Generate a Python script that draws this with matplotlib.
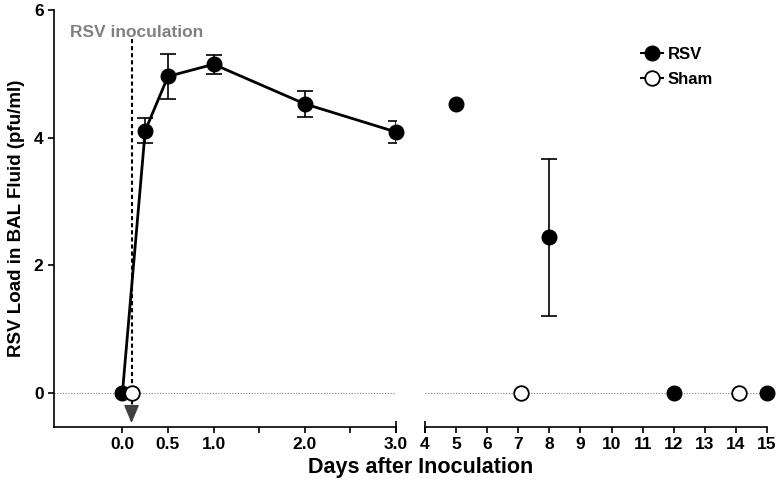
import matplotlib.pyplot as plt
import numpy as np

plt.rcParams['font.family'] = ['Liberation Sans', 'DejaVu Sans']
plt.rcParams['font.weight'] = 'bold'

# RSV load in BAL fluid after inoculation

rsv_days = np.array([0, 0.25, 0.5, 1.0, 2.0, 3.0, 5, 8, 12, 15])
rsv_load = np.array([0, 4.11, 4.96, 5.15, 4.53, 4.09, 4.53, 2.44, 0, 0])
rsv_err = np.array([0, 0.2, 0.35, 0.15, 0.2, 0.17, 0, 1.23, 0, 0])
rsv_connected = np.array([True, True, True, True, True, True, False, False, False, False])

sham_days = np.array([0.1, 7.1, 14.1])
sham_load = np.array([0, 0, 0])

inoculation_day = 0.1
left_ticks = [0.0, 0.5, 1.0, 1.5, 2.0, 2.5, 3.0]
left_labels = ["0.0", "0.5", "1.0", "", "2.0", "", "3.0"]
right_ticks = list(range(4, 16))

fig = plt.figure(figsize=(7.8, 4.82), dpi=100)
ax1 = fig.add_axes([54 / 780, 55 / 482, 342 / 780, 417 / 482])
ax2 = fig.add_axes([425 / 780, 55 / 482, 342 / 780, 417 / 482])

ms = 10.5
for ax, lo, hi in [(ax1, -0.75, 3.0), (ax2, 4, 15)]:
    ax.axhline(0, color='gray', lw=0.8, ls=(0, (1, 1.5)), zorder=1)

    m = (rsv_days >= lo) & (rsv_days <= hi)
    line = m & rsv_connected
    if line.any():
        ax.plot(rsv_days[line], rsv_load[line], color='black', lw=2.0, zorder=2)
    e = m & (rsv_err > 0)
    ax.errorbar(rsv_days[e], rsv_load[e], yerr=rsv_err[e], fmt='none',
                ecolor='black', elinewidth=1.2, capsize=5.5, capthick=1.2, zorder=2)
    ax.plot(rsv_days[m], rsv_load[m], 'o', color='black', ms=ms, zorder=4, clip_on=False)

    s = (sham_days >= lo) & (sham_days <= hi)
    ax.plot(sham_days[s], sham_load[s], 'o', mfc='white', mec='black', mew=1.3,
            ms=ms, zorder=5, clip_on=False)

    ax.set_xlim(lo, hi)
    ax.set_ylim(-0.53, 6)
    for sp in ['top', 'right']:
        ax.spines[sp].set_visible(False)
    ax.spines['bottom'].set_linewidth(1.2)
    ax.spines['left'].set_linewidth(1.2)
    ax.tick_params(width=1.2, length=4, labelsize=12.5, direction='out')

ax1.set_xticks(left_ticks)
ax1.set_xticklabels(left_labels, fontweight='bold')
ax1.set_yticks([0, 2, 4, 6])
ax1.set_yticklabels(["0", "2", "4", "6"], fontweight='bold')
ax1.set_ylabel("RSV Load in BAL Fluid (pfu/ml)", fontsize=13.5, fontweight='bold', labelpad=6)

ax2.set_xticks(right_ticks)
ax2.set_xticklabels([str(t) for t in right_ticks], fontweight='bold')
ax2.spines['left'].set_visible(False)
ax2.set_yticks([])

# end caps at the axis break
ax1.plot([3.0], [0], marker='|', ms=9, mew=1.2, color='black',
         transform=ax1.get_xaxis_transform(), clip_on=False)
ax2.plot([4], [0], marker='|', ms=9, mew=1.2, color='black',
         transform=ax2.get_xaxis_transform(), clip_on=False)

# inoculation marker
ax1.plot([inoculation_day, inoculation_day], [5.55, -0.25], color='black',
         lw=1.5, ls=(0, (2, 1.4)), zorder=3)
ax1.annotate("", xy=(inoculation_day, -0.47), xytext=(inoculation_day, -0.23),
             arrowprops=dict(arrowstyle='-|>,head_length=0.55,head_width=0.23',
                             mutation_scale=20, color='#404040', lw=1.2,
                             shrinkA=0, shrinkB=0), zorder=3)
ax1.text(-0.58, 5.64, "RSV inoculation", color='gray', fontsize=12.5,
         fontweight='bold', ha='left', va='center')

h1, = ax2.plot([], [], '-o', color='black', ms=ms, lw=1.5)
h2, = ax2.plot([], [], '-o', color='black', mfc='white', mew=1.3, ms=ms, lw=1.5)
ax2.legend([h1, h2], ["RSV", "Sham"], loc='upper left', bbox_to_anchor=(626 / 780, 450 / 482),
           bbox_transform=fig.transFigure, frameon=False, handlelength=1.3,
           handletextpad=0.3, labelspacing=0.6, prop={'weight': 'bold', 'size': 12})

fig.text(421 / 780, 15 / 482, "Days after Inoculation", fontsize=15.5,
         fontweight='bold', ha='center', va='center')

plt.savefig("out.png", dpi=100)
